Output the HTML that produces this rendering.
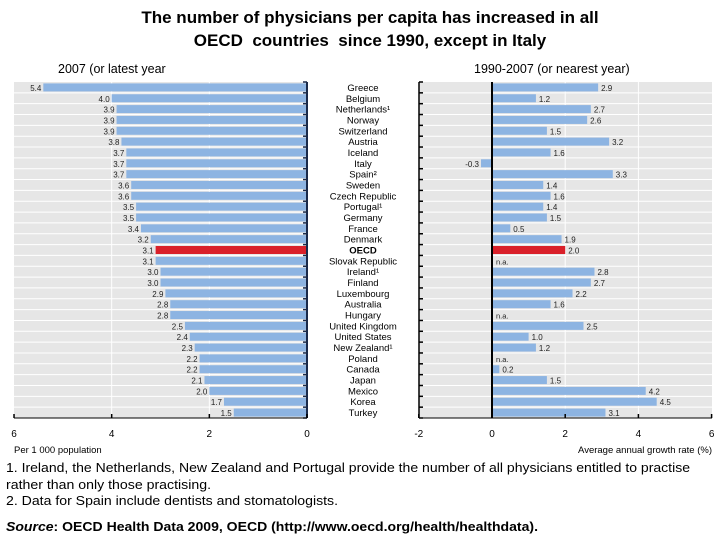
<!DOCTYPE html>
<html><head><meta charset="utf-8">
<style>
html,body{margin:0;padding:0;background:#fff;}
svg{display:block;font-family:"Liberation Sans",Arial,sans-serif;}
</style></head>
<body>
<svg id="chart" width="720" height="540" viewBox="0 0 720 540">
  <text x="370" y="23" text-anchor="middle" font-size="17" font-weight="bold">The number of physicians per capita has increased in all</text>
  <text x="370" y="46" text-anchor="middle" font-size="17" font-weight="bold">OECD&#160; countries&#160; since 1990, except in Italy</text>
  <text x="58" y="73" font-size="12.5">2007 (or latest year</text>
  <text x="474" y="73" font-size="12.5">1990-2007 (or nearest year)</text>
  <g id="left"></g>
  <g id="right"></g>
  <g id="labels"></g>
  <text x="14" y="453" font-size="9.5">Per 1 000 population</text>
  <text x="712" y="453" font-size="9.5" text-anchor="end">Average annual growth rate (%)</text>
  <text x="6" y="472" font-size="13" textLength="684" lengthAdjust="spacingAndGlyphs">1. Ireland, the Netherlands, New Zealand and Portugal provide the number of all physicians entitled to practise</text>
  <text x="6" y="489" font-size="13" textLength="205" lengthAdjust="spacingAndGlyphs">rather than only those practising.</text>
  <text x="6" y="505" font-size="13" textLength="332" lengthAdjust="spacingAndGlyphs">2. Data for Spain include dentists and stomatologists.</text>
  <text x="6" y="531" font-size="13" font-weight="bold" textLength="532" lengthAdjust="spacingAndGlyphs"><tspan font-style="italic">Source</tspan>: OECD Health Data 2009, OECD (http://www.oecd.org/health/healthdata).</text>
</svg>
<script>
const countries = ["Greece","Belgium","Netherlands¹","Norway","Switzerland","Austria","Iceland","Italy","Spain²","Sweden","Czech Republic","Portugal¹","Germany","France","Denmark","OECD","Slovak Republic","Ireland¹","Finland","Luxembourg","Australia","Hungary","United Kingdom","United States","New Zealand¹","Poland","Canada","Japan","Mexico","Korea","Turkey"];
const density = [5.4,4.0,3.9,3.9,3.9,3.8,3.7,3.7,3.7,3.6,3.6,3.5,3.5,3.4,3.2,3.1,3.1,3.0,3.0,2.9,2.8,2.8,2.5,2.4,2.3,2.2,2.2,2.1,2.0,1.7,1.5];
const growth = [2.9,1.2,2.7,2.6,1.5,3.2,1.6,-0.3,3.3,1.4,1.6,1.4,1.5,0.5,1.9,2.0,null,2.8,2.7,2.2,1.6,null,2.5,1.0,1.2,null,0.2,1.5,4.2,4.5,3.1];
const leftTicks = [6,4,2,0];
const rightTicks = [-2,0,2,4,6];

const NS="http://www.w3.org/2000/svg";
function mk(parent,tag,attrs){const e=document.createElementNS(NS,tag);for(const k in attrs)e.setAttribute(k,attrs[k]);parent.appendChild(e);return e;}
const top0=82, bottom0=418, n=countries.length, pitch=(bottom0-top0)/n, barH=8;
const rowY=i=>top0+i*pitch;
const xL=v=>307-v*48.83;
const xR=v=>492+v*36.6;
const BLUE="#8db4e2", RED="#d9202a", GRAY="#e6e6e6";

// left panel
const L=document.getElementById('left');
let bg=mk(L,'rect',{x:14,y:top0,width:293,height:bottom0-top0,fill:GRAY});


[4,2].forEach(t=>{const g=mk(L,'line',{x1:xL(t),x2:xL(t),y1:top0,y2:bottom0,stroke:'#fff','stroke-width':1});

});
for(let i=1;i<n;i++){const s=mk(L,'line',{x1:14,x2:307,y1:rowY(i),y2:rowY(i),stroke:'#fff','stroke-width':1});

}
density.forEach((v,i)=>{
  const y=rowY(i)+(pitch-barH)/2;
  const b=mk(L,'rect',{x:xL(v),y:y,width:307-xL(v),height:barH,fill:countries[i]==="OECD"?RED:BLUE});
  
  
  const t=mk(L,'text',{x:xL(v)-2,y:y+7.5,'font-size':8,'text-anchor':'end',fill:'#222'});
  t.textContent=v.toFixed(1);
  
  
});
let ax=mk(L,'line',{x1:307,x2:307,y1:top0,y2:bottom0,stroke:'#1a2a4a','stroke-width':2});


for(let i=0;i<=n;i++){const tk=mk(L,'line',{x1:303,x2:307,y1:rowY(i),y2:rowY(i),stroke:'#1a2a4a','stroke-width':1.5});

}
let bx=mk(L,'line',{x1:14,x2:307,y1:bottom0,y2:bottom0,stroke:'#000','stroke-width':1});


leftTicks.forEach(t=>{
  const tk=mk(L,'line',{x1:xL(t),x2:xL(t),y1:bottom0-4,y2:bottom0,stroke:'#000','stroke-width':1.5});
  
  
  const tl=mk(L,'text',{x:xL(t),y:437,'font-size':10,'text-anchor':'middle'});
  tl.textContent=t;
  
  
});

// right panel
const R=document.getElementById('right');
let bg2=mk(R,'rect',{x:419,y:top0,width:293,height:bottom0-top0,fill:GRAY});


[2,4].forEach(t=>{const g=mk(R,'line',{x1:xR(t),x2:xR(t),y1:top0,y2:bottom0,stroke:'#fff','stroke-width':1});

});
for(let i=1;i<n;i++){const s=mk(R,'line',{x1:419,x2:712,y1:rowY(i),y2:rowY(i),stroke:'#fff','stroke-width':1});

}
growth.forEach((v,i)=>{
  const y=rowY(i)+(pitch-barH)/2;
  if(v===null){
    const t=mk(R,'text',{x:496,y:y+7.5,'font-size':7.5,fill:'#222'});
    t.textContent='n.a.';
    
    
    return;
  }
  const x0=Math.min(xR(0),xR(v)), w=Math.abs(xR(v)-xR(0));
  const b=mk(R,'rect',{x:x0,y:y,width:w,height:barH,fill:countries[i]==="OECD"?RED:BLUE});
  
  
  const t=mk(R,'text',{x:v<0?xR(v)-2:xR(v)+3,y:y+7.5,'font-size':8,'text-anchor':v<0?'end':'start',fill:'#222'});
  t.textContent=v.toFixed(1);
  
  
});
let ax2=mk(R,'line',{x1:419,x2:419,y1:top0,y2:bottom0,stroke:'#000','stroke-width':1.5});


for(let i=0;i<=n;i++){const tk=mk(R,'line',{x1:419,x2:423,y1:rowY(i),y2:rowY(i),stroke:'#000','stroke-width':1.5});

}
let zl=mk(R,'line',{x1:xR(0),x2:xR(0),y1:top0,y2:bottom0,stroke:'#000','stroke-width':2});


let bx2=mk(R,'line',{x1:419,x2:712,y1:bottom0,y2:bottom0,stroke:'#000','stroke-width':1});


rightTicks.forEach(t=>{
  const tk=mk(R,'line',{x1:xR(t),x2:xR(t),y1:bottom0-4,y2:bottom0,stroke:'#000','stroke-width':1.5});
  
  
  const tl=mk(R,'text',{x:xR(t),y:437,'font-size':10,'text-anchor':'middle'});
  tl.textContent=t;
  
  
});

// country labels
const C=document.getElementById('labels');
countries.forEach((c,i)=>{
  const t=mk(C,'text',{x:363,y:rowY(i)+pitch/2+3.5,'font-size':9.5,'text-anchor':'middle','font-weight':c==="OECD"?'bold':'normal'});
  t.textContent=c;
  
  
});
</script>
</body></html>
